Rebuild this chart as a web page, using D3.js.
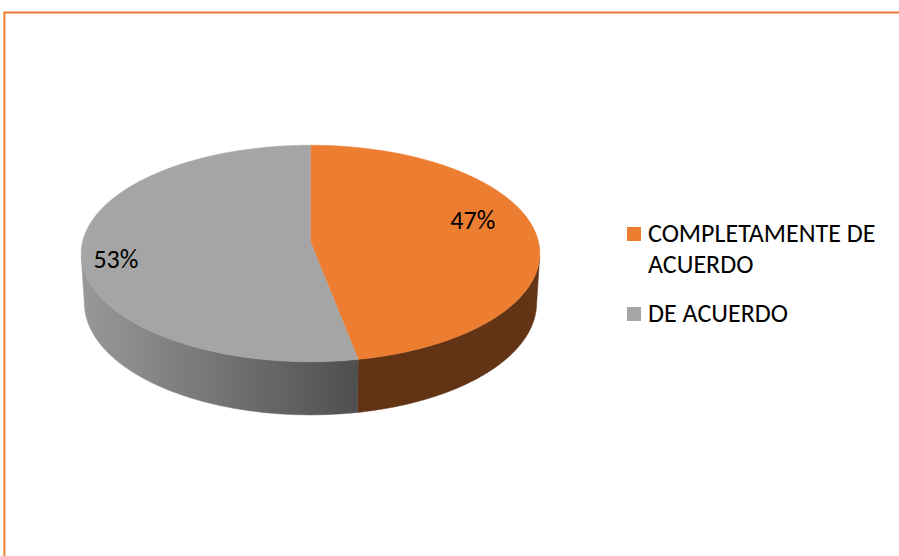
<!DOCTYPE html>
<html>
<head>
<meta charset="utf-8">
<script src="https://cdn.jsdelivr.net/npm/d3@7"></script>
<style>
  body { margin: 0; background: #fff; }
  text { font-family: Carlito, Lato, sans-serif; }
</style>
</head>
<body>
<div id="chart"></div>
<script>
var categories = ["COMPLETAMENTE DE ACUERDO", "DE ACUERDO"];
var legendLines = [["COMPLETAMENTE DE", "ACUERDO"], ["DE ACUERDO"]];
var values = [47, 53];
var labels = ["47%", "53%"];

var width = 899, height = 556;

var svg = d3.select("#chart").append("svg")
    .attr("width", width)
    .attr("height", height);

// chart area border (only top and left are in view)
svg.append("rect")
    .attr("x", 4.4).attr("y", 12.5)
    .attr("width", 1200).attr("height", 1200)
    .attr("fill", "none")
    .attr("stroke", "#ED7D31")
    .attr("stroke-width", 2);

var topColor = ["#ED7D31", "#A5A5A5"];
var sideColor = ["url(#sideOrange)", "url(#sideGray)"];

// simple perspective camera for the 3D pie (radius 1)
var cx = 310.5, cy = 242;
var dist = 8.32, tilt = 28 * Math.PI / 180, thick = 0.248;
var scale = 228 * dist;
var sinT = Math.sin(tilt), cosT = Math.cos(tilt);

function project(a, r, z) {
    var X = r * Math.sin(a), Y = -r * Math.cos(a);
    var depth = dist - Y * cosT - z * sinT;
    return [cx + scale * X / depth, cy + scale * (Y * sinT - z * cosT) / depth];
}

function arcPoints(a0, a1, z) {
    var n = Math.max(2, Math.ceil(Math.abs(a1 - a0) / 0.01));
    return d3.range(n + 1).map(function (i) {
        return project(a0 + (a1 - a0) * i / n, 1, z);
    });
}

var defs = svg.append("defs");
var g1 = defs.append("linearGradient").attr("id", "sideGray")
    .attr("gradientUnits", "userSpaceOnUse")
    .attr("x1", 81).attr("x2", 358).attr("y1", 0).attr("y2", 0);
g1.append("stop").attr("offset", "0").attr("stop-color", "#999999");
g1.append("stop").attr("offset", "1").attr("stop-color", "#4f4f4f");
var g2 = defs.append("linearGradient").attr("id", "sideOrange")
    .attr("gradientUnits", "userSpaceOnUse")
    .attr("x1", 358).attr("x2", 541).attr("y1", 0).attr("y2", 0);
g2.append("stop").attr("offset", "0").attr("stop-color", "#613214");
g2.append("stop").attr("offset", "1").attr("stop-color", "#633516");

var pie = d3.pie().sort(null).value(function (d) { return d; });
var arcs = pie(values);

var line = d3.line();

// visible part of the outer wall
var aVis = Math.acos(-1 / (dist * cosT));
var visMin = aVis, visMax = 2 * Math.PI - aVis;

var sides = svg.append("g");
arcs.forEach(function (d, i) {
    var a0 = Math.max(d.startAngle, visMin);
    var a1 = Math.min(d.endAngle, visMax);
    if (a1 <= a0) return;
    var pts = arcPoints(a0, a1, 0).concat(arcPoints(a1, a0, -thick));
    sides.append("path")
        .attr("d", line(pts) + "Z")
        .attr("fill", sideColor[i])
        .attr("stroke", sideColor[i])
        .attr("stroke-width", 0.5);
});

// top faces
var tops = svg.append("g");
arcs.forEach(function (d, i) {
    var pts = [[cx, cy]].concat(arcPoints(d.startAngle, d.endAngle, 0));
    tops.append("path")
        .attr("d", line(pts) + "Z")
        .attr("fill", topColor[i])
        .attr("stroke", topColor[i])
        .attr("stroke-width", 0.5);
});

// data labels
var labelRadius = [0.72, 0.85];
var labelShift = [-14, 9];
arcs.forEach(function (d, i) {
    var mid = (d.startAngle + d.endAngle) / 2;
    var p = project(mid, labelRadius[i], 0);
    svg.append("text")
        .attr("x", p[0]).attr("y", p[1] + labelShift[i])
        .attr("text-anchor", "middle")
        .attr("dy", "0.32em")
        .attr("font-size", 26)
        .attr("fill", "#000")
        .text(labels[i]);
});

// legend
var legend = svg.append("g").attr("transform", "translate(627,227)");
var yPos = 0;
categories.forEach(function (c, i) {
    var item = legend.append("g").attr("transform", "translate(0," + yPos + ")");
    item.append("rect")
        .attr("width", 14).attr("height", 14)
        .attr("fill", topColor[i]);
    legendLines[i].forEach(function (t, j) {
        item.append("text")
            .attr("x", 21).attr("y", 14.5 + j * 31.5)
            .attr("font-size", 26)
            .attr("fill", "#000")
            .text(t);
    });
    yPos += legendLines[i].length * 31.5 + 17;
});
</script>
</body>
</html>
